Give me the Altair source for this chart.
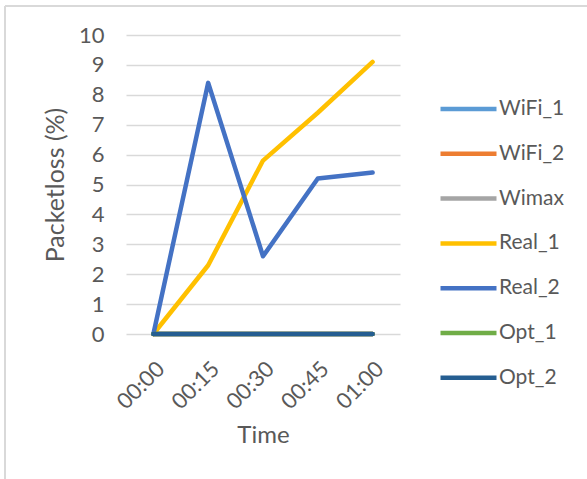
import altair as alt
import pandas as pd

# Time slots on the x axis
times = ["00:00", "00:15", "00:30", "00:45", "01:00"]

# Packet loss (%) per series
wifi_1 = [0, 0, 0, 0, 0]
wifi_2 = [0, 0, 0, 0, 0]
wimax = [0, 0, 0, 0, 0]
real_1 = [0, 2.3, 5.8, 7.4, 9.1]
real_2 = [0, 8.4, 2.6, 5.2, 5.4]
opt_1 = [0, 0, 0, 0, 0]
opt_2 = [0, 0, 0, 0, 0]

series_names = ["WiFi_1", "WiFi_2", "Wimax", "Real_1", "Real_2", "Opt_1", "Opt_2"]
series_values = [wifi_1, wifi_2, wimax, real_1, real_2, opt_1, opt_2]
series_colors = ["#5B9BD5", "#ED7D31", "#A5A5A5", "#FFC000", "#4472C4", "#70AD47", "#255E91"]

rows = []
for order, (name, vals) in enumerate(zip(series_names, series_values)):
    for t, v in zip(times, vals):
        rows.append({"Time": t, "Packetloss": v, "Series": name, "order": order})
df = pd.DataFrame(rows)

FONT = "Lato"
GREY = "#595959"

lines = alt.Chart(df).mark_line(strokeWidth=4.5, strokeCap="round", strokeJoin="round").encode(
    x=alt.X("Time:O", sort=times, scale=alt.Scale(type="point", padding=0.5),
            axis=alt.Axis(title="Time", labelAngle=-45, labelFontSize=22, labelColor=GREY,
                          labelFont=FONT, ticks=False, domain=False, labelPadding=24,
                          titleFont=FONT, titleFontSize=24, titleColor=GREY,
                          titleFontWeight="normal", titlePadding=11)),
    y=alt.Y("Packetloss:Q", scale=alt.Scale(domain=[0, 10], nice=False),
            axis=alt.Axis(title="Packetloss (%)", values=list(range(0, 11)), labelOverlap=False,
                          labelFontSize=22, labelColor=GREY, labelFont=FONT, ticks=False,
                          domain=False, labelPadding=22, grid=True, gridColor="#D9D9D9",
                          gridWidth=1.3, titleFont=FONT, titleFontSize=25, titleColor=GREY,
                          titleFontWeight="normal", titlePadding=10)),
    color=alt.Color("Series:N", sort=series_names,
                    scale=alt.Scale(domain=series_names, range=series_colors),
                    legend=alt.Legend(title=None, orient="none", legendX=312, legendY=63,
                                      symbolType="stroke", symbolSize=3136, symbolStrokeWidth=4.5,
                                      clipHeight=22, rowPadding=22.8, labelFontSize=21,
                                      labelFont=FONT, labelColor=GREY, labelOffset=0)),
    detail="Series:N",
    order="order:Q",
)

# Outer chart frame (top and left edges)
frame_top = alt.Chart(df).mark_rule(color="#D9D9D9", strokeWidth=1.5).encode(
    x=alt.value(-121), x2=alt.value(461), y=alt.value(-29)
)
frame_left = alt.Chart(df).mark_rule(color="#D9D9D9", strokeWidth=1.5).encode(
    x=alt.value(-121), y=alt.value(-29), y2=alt.value(444)
)

chart = alt.layer(frame_top, frame_left, lines).properties(
    width=274, height=299,
    padding={"left": 126, "top": 35, "right": 187, "bottom": 145},
    autosize=alt.AutoSizeParams(type="none"),
    background="white",
).configure_view(stroke=None)

chart.save("out.html", embed_options={"renderer": "svg", "actions": False})
